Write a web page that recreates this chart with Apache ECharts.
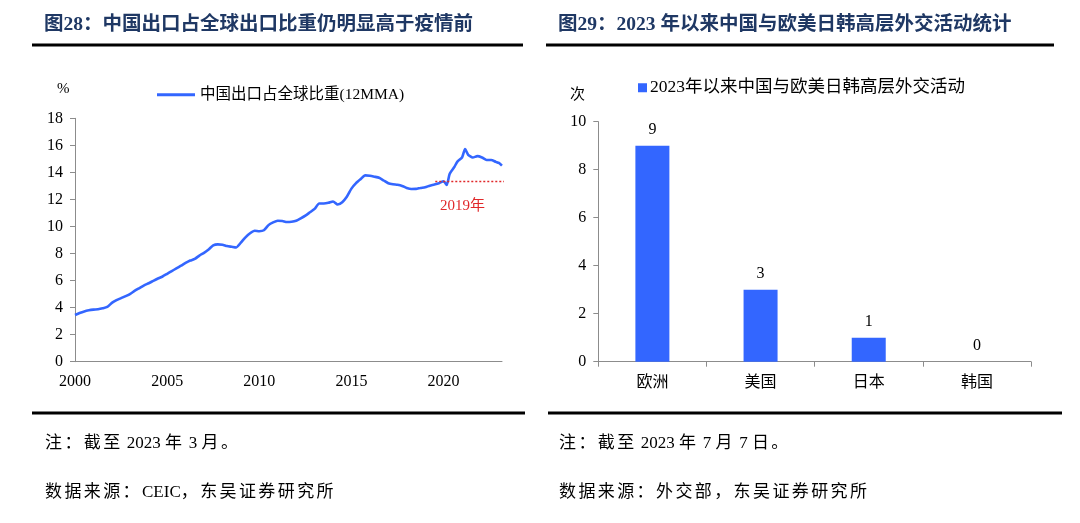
<!DOCTYPE html>
<html>
<head>
<meta charset="utf-8">
<script src="https://cdn.jsdelivr.net/npm/echarts@6/dist/echarts.min.js"></script>
<style>
html,body{margin:0;padding:0;background:#fff;}
#wrap{position:relative;width:1080px;height:523px;}
#c{position:absolute;left:0;top:0;width:1080px;height:523px;}
.note{position:absolute;font-family:'Liberation Serif','Noto Sans CJK SC',serif;font-size:17px;color:#000;letter-spacing:2.4px;white-space:pre;line-height:20px;}
.note .a{letter-spacing:0;}
</style>
</head>
<body>
<div id="wrap">
<div id="c"></div>
<div class="note" id="ln" style="left:45px;top:433px;"></div>
<div class="note" id="ls" style="left:45px;top:482px;"></div>
<div class="note" id="rn" style="left:559px;top:433px;"></div>
<div class="note" id="rs" style="left:559px;top:482px;"></div>
</div>
<script>
// ---- Left chart data: China's share of global exports (12MMA), %
const shareDates = ['2000-01','2000-04','2000-07','2000-10','2001-01','2001-04','2001-07','2001-10',
'2002-01','2002-04','2002-07','2002-10','2003-01','2003-04','2003-07','2003-10',
'2004-01','2004-04','2004-07','2004-10','2005-01','2005-04','2005-07','2005-10',
'2006-01','2006-04','2006-07','2006-10','2007-01','2007-04','2007-07','2007-10',
'2008-01','2008-04','2008-07','2008-10','2009-01','2009-04','2009-07','2009-10',
'2010-01','2010-04','2010-07','2010-10','2011-01','2011-04','2011-07','2011-10',
'2012-01','2012-04','2012-07','2012-10','2013-01','2013-04','2013-07','2013-10',
'2014-01','2014-04','2014-07','2014-10','2015-01','2015-04','2015-07','2015-10',
'2016-01','2016-04','2016-07','2016-10','2017-01','2017-04','2017-07','2017-10',
'2018-01','2018-04','2018-07','2018-10','2019-01','2019-04','2019-07','2019-10',
'2020-01','2020-03','2020-05','2020-08','2020-10','2021-01','2021-03','2021-05',
'2021-08','2021-11','2022-02','2022-05','2022-08','2022-11','2023-01','2023-03'];
const shareValues = [3.45,3.6,3.72,3.8,3.85,3.88,3.95,4.05,
4.35,4.55,4.7,4.85,5.02,5.25,5.45,5.65,
5.8,5.98,6.15,6.3,6.5,6.7,6.9,7.1,
7.3,7.48,7.6,7.85,8.05,8.3,8.6,8.68,
8.65,8.55,8.5,8.45,8.8,9.2,9.5,9.68,
9.65,9.72,10.1,10.3,10.42,10.4,10.33,10.35,
10.42,10.6,10.8,11.05,11.3,11.7,11.7,11.75,
11.85,11.62,11.8,12.2,12.8,13.2,13.5,13.78,
13.75,13.68,13.6,13.4,13.2,13.12,13.08,13.0,
12.85,12.77,12.78,12.85,12.9,13.02,13.1,13.2,
13.35,13.07,13.9,14.4,14.8,15.1,15.72,15.3,
15.1,15.2,15.1,14.92,14.92,14.78,14.7,14.5];
const shareName = '中国出口占全球比重(12MMA)';
const ref2019Value = 13.32;
const ref2019Span = [2019.55, 2023.4];
const ref2019Label = '2019年';
const leftYTicks = {min: 0, max: 18, interval: 2};
const leftXTicks = {min: 2000, max: 2023.17, interval: 5};

// ---- Right chart data: high-level diplomatic activities since 2023
const regions = ['欧洲','美国','日本','韩国'];
const activityCounts = [9, 3, 1, 0];
const activityName = '2023年以来中国与欧美日韩高层外交活动';
const rightYTicks = {min: 0, max: 10, interval: 2};

// ---- Texts
const leftTitle = '图28：中国出口占全球出口比重仍明显高于疫情前';
const rightTitle = '图29：2023 年以来中国与欧美日韩高层外交活动统计';
const leftNote = '注：截至 2023 年 3 月。';
const rightNote = '注：截至 2023 年 7 月 7 日。';
const leftSource = '数据来源：CEIC，东吴证券研究所';
const rightSource = '数据来源：外交部，东吴证券研究所';

function setNote(id, text) {
  const el = document.getElementById(id);
  el.textContent = '';
  const parts = text.match(/[A-Za-z0-9 ]+|[^A-Za-z0-9 ]+/g) || [];
  parts.forEach(p => {
    const s = document.createElement('span');
    if (/^[A-Za-z0-9 ]+$/.test(p)) s.className = 'a';
    s.textContent = p;
    el.appendChild(s);
  });
}
setNote('ln', leftNote);
setNote('ls', leftSource);
setNote('rn', rightNote);
setNote('rs', rightSource);

const toYear = d => { const [y, m] = d.split('-').map(Number); return y + (m - 1) / 12; };
const lineData = shareDates.map((d, i) => [toYear(d), shareValues[i]]);

const SERIF = "'Liberation Serif','Noto Sans CJK SC',serif";
const BLUE = '#3366ff';
const RED = '#e0282a';
const NAVY = '#1f3864';
const AX = '#8c8c8c';

const chart = echarts.init(document.getElementById('c'), null, {renderer: 'canvas'});

function hline(x1, x2, y, w) {
  return {type: 'line', shape: {x1: x1, y1: y, x2: x2, y2: y}, style: {stroke: '#000', lineWidth: w}, silent: true};
}
function txt(x, y, text, font, fill, align) {
  return {type: 'text', x: x, y: y, style: {text: text, font: font, fill: fill, textAlign: align || 'left', textVerticalAlign: 'middle'}, silent: true};
}

chart.setOption({
  animation: false,
  backgroundColor: '#fff',
  textStyle: {fontFamily: SERIF},
  grid: [
    {left: 75, right: 578, top: 118.3, bottom: 161.3, containLabel: false},
    {left: 598.3, right: 49, top: 121.7, bottom: 161.3, containLabel: false}
  ],
  legend: [
    {data: [shareName], left: 157, top: 87, padding: 0, itemWidth: 38, itemHeight: 3, icon: 'rect', itemGap: 5,
     textStyle: {fontFamily: SERIF, fontSize: 15.5, color: '#000'}},
    {data: [activityName], left: 638, top: 79, padding: 0, itemWidth: 9, itemHeight: 9, icon: 'rect',
     textStyle: {fontFamily: SERIF, fontSize: 17.5, color: '#000', padding: [0, 0, 0, -2]}}
  ],
  xAxis: [
    {type: 'value', gridIndex: 0, min: leftXTicks.min, max: leftXTicks.max, interval: leftXTicks.interval,
     axisLine: {show: true, lineStyle: {color: AX, width: 1}},
     axisTick: {show: false},
     splitLine: {show: false},
     axisLabel: {color: '#000', fontFamily: SERIF, fontSize: 16, margin: 12,
       formatter: v => (Math.abs(v % 5) < 1e-6 ? String(Math.round(v)) : '')}},
    {type: 'category', gridIndex: 1, data: regions,
     axisLine: {show: true, lineStyle: {color: AX, width: 1}},
     axisTick: {show: true, alignWithLabel: false, length: 5, lineStyle: {color: AX}},
     axisLabel: {color: '#000', fontFamily: SERIF, fontSize: 16, margin: 13}}
  ],
  yAxis: [
    {type: 'value', gridIndex: 0, min: leftYTicks.min, max: leftYTicks.max, interval: leftYTicks.interval,
     axisLine: {show: true, lineStyle: {color: AX, width: 1}},
     axisTick: {show: true, length: 5, lineStyle: {color: AX}},
     splitLine: {show: false},
     axisLabel: {color: '#000', fontFamily: SERIF, fontSize: 16, margin: 12}},
    {type: 'value', gridIndex: 1, min: rightYTicks.min, max: rightYTicks.max, interval: rightYTicks.interval,
     axisLine: {show: true, lineStyle: {color: AX, width: 1}},
     axisTick: {show: true, length: 5, lineStyle: {color: AX}},
     splitLine: {show: false},
     axisLabel: {color: '#000', fontFamily: SERIF, fontSize: 16, margin: 12}}
  ],
  series: [
    {name: shareName, type: 'line', xAxisIndex: 0, yAxisIndex: 0, data: lineData, z: 2,
     symbol: 'none', smooth: 0.2, lineStyle: {color: BLUE, width: 2.6}, itemStyle: {color: BLUE}},
    {name: 'ref2019', type: 'line', xAxisIndex: 0, yAxisIndex: 0, clip: false,
     data: [[ref2019Span[0], ref2019Value], [ref2019Span[1], ref2019Value]],
     symbol: 'none', lineStyle: {color: RED, width: 1.5, type: [2, 2]}, z: 3},
    {name: activityName, type: 'bar', xAxisIndex: 1, yAxisIndex: 1, data: activityCounts,
     barWidth: 34, itemStyle: {color: BLUE},
     label: {show: true, position: 'top', distance: 8, color: '#000', fontFamily: SERIF, fontSize: 16}}
  ],
  graphic: [
    txt(44, 25, leftTitle, "bold 19.5px " + SERIF, NAVY),
    txt(558, 25, rightTitle, "bold 19.5px " + SERIF, NAVY),
    hline(32, 523, 45, 3),
    hline(546, 1054, 45, 3),
    hline(32, 525, 413, 3),
    hline(548, 1062, 413, 3),
    txt(57, 89, '%', "15px " + SERIF, '#000'),
    txt(570, 95, '次', "15px " + SERIF, '#000'),
    txt(440, 206, ref2019Label, "15px " + SERIF, RED)
  ]
});
</script>
</body>
</html>
